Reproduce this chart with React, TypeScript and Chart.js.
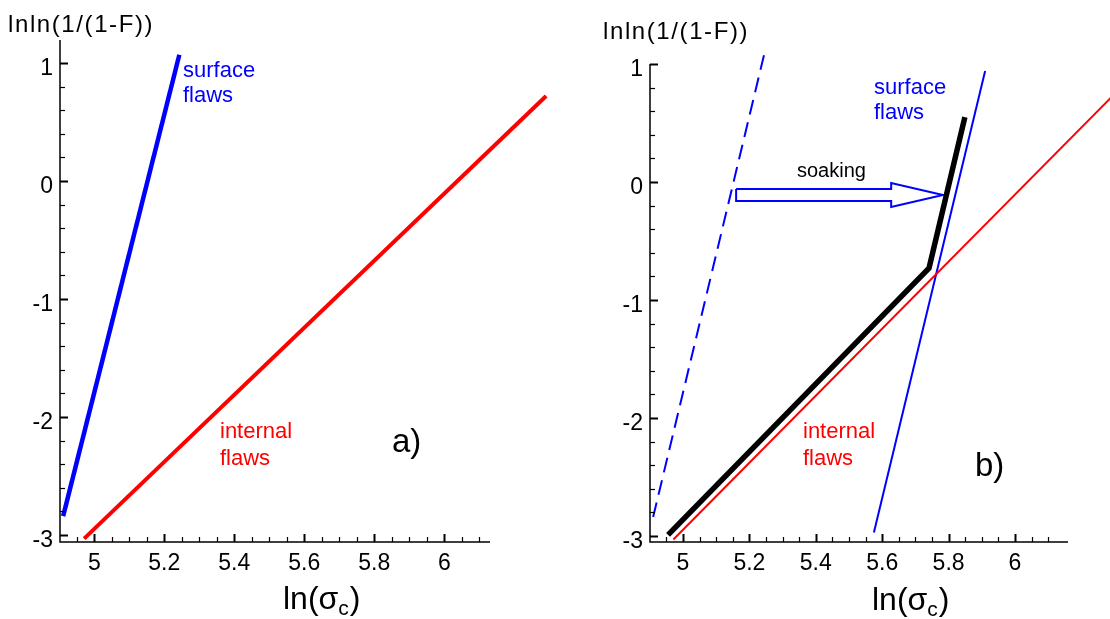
import React, { useEffect, useRef } from 'react';
import { Chart, registerables } from 'chart.js';

Chart.register(...registerables);

const FONT = "'Liberation Sans', Arial, Helvetica, sans-serif";

// ---- tick labels ----
const xTickValues = [5, 5.2, 5.4, 5.6, 5.8, 6];
const xTickLabels = ['5', '5.2', '5.4', '5.6', '5.8', '6'];
const yTickValues = [1, 0, -1, -2, -3];
const yTickLabels = ['1', '0', '-1', '-2', '-3'];

// ---- panel a) series ----
const surfaceA_x = [4.911, 5.243];
const surfaceA_y = [-2.84, 1.07];
const internalA_x = [4.971, 6.291];
const internalA_y = [-3.03, 0.72];

// ---- panel b) series ----
const surfaceBefore_x = [4.91, 5.244];
const surfaceBefore_y = [-2.84, 1.076];
const surfaceAfter_x = [5.575, 5.91];
const surfaceAfter_y = [-2.97, 0.94];
const internalB_x = [4.971, 6.291];
const internalB_y = [-3.03, 0.72];
const combined_x = [4.955, 5.741, 5.849];
const combined_y = [-2.99, -0.73, 0.55];
const arrow_x = [5.16, 5.627, 5.627, 5.783, 5.627, 5.627, 5.16, 5.16];
const arrow_y = [-0.059, -0.059, -0.008, -0.11, -0.212, -0.161, -0.161, -0.059];

const pts = (xs: number[], ys: number[]) => xs.map((x, i) => ({ x, y: ys[i] }));

const line = (xs: number[], ys: number[], color: string, width: number, dash: number[] = []) => ({
  data: pts(xs, ys),
  showLine: true,
  borderColor: color,
  backgroundColor: color,
  borderWidth: width,
  borderDash: dash,
  pointRadius: 0,
  pointHoverRadius: 0,
  fill: false,
  clip: false as any,
  borderJoinStyle: 'miter' as const,
  borderCapStyle: 'butt' as const,
});

type TextItem = { text: string; x: number; y: number; color: string; size: number; spacing?: number };

const decorPlugin = {
  id: 'panelDecor',
  afterDraw(chart: any, _args: any, opts: any) {
    const { ctx, chartArea } = chart;
    const xs = chart.scales.x;
    const ys = chart.scales.y;
    ctx.save();
    ctx.strokeStyle = '#000';
    ctx.lineWidth = 1.5;
    ctx.beginPath();
    ctx.moveTo(chartArea.left, chartArea.top);
    ctx.lineTo(chartArea.left, chartArea.bottom);
    ctx.lineTo(chartArea.right, chartArea.bottom);
    ctx.stroke();
    // x ticks (inward)
    const kx0 = Math.ceil(xs.min * 20 - 1e-6);
    const kx1 = Math.floor(opts.xTickMax * 20 + 1e-6);
    for (let k = kx0; k <= kx1; k++) {
      const major = k % 4 === 0;
      const px = Math.round(xs.getPixelForValue(k / 20)) + 0.5;
      ctx.lineWidth = major ? 2 : 1.2;
      ctx.beginPath();
      ctx.moveTo(px, chartArea.bottom);
      ctx.lineTo(px, chartArea.bottom - (major ? 8 : 5));
      ctx.stroke();
    }
    // y ticks (inward)
    for (let k = -15; k <= 5; k++) {
      const major = k % 5 === 0;
      const py = Math.round(ys.getPixelForValue(k / 5)) + 0.5;
      ctx.lineWidth = major ? 2 : 1.2;
      ctx.beginPath();
      ctx.moveTo(chartArea.left, py);
      ctx.lineTo(chartArea.left + (major ? 8 : 5), py);
      ctx.stroke();
    }
    // texts
    ctx.textBaseline = 'alphabetic';
    ctx.textAlign = 'left';
    (opts.texts as TextItem[]).forEach((t) => {
      ctx.font = `${t.size}px ${FONT}`;
      ctx.fillStyle = t.color;
      (ctx as any).letterSpacing = `${t.spacing || 0}px`;
      ctx.fillText(t.text, t.x, t.y);
    });
    (ctx as any).letterSpacing = '0px';
    // x axis title ln(σc)
    const xt = opts.xTitle;
    ctx.fillStyle = '#000';
    ctx.font = `32px ${FONT}`;
    ctx.fillText('ln(σ', xt.x, xt.y);
    const w1 = ctx.measureText('ln(σ').width;
    ctx.font = `21px ${FONT}`;
    ctx.fillText('c', xt.x + w1, xt.y + 6);
    const w2 = ctx.measureText('c').width;
    ctx.font = `32px ${FONT}`;
    ctx.fillText(')', xt.x + w1 + w2 + 1, xt.y);
    ctx.restore();
  },
};

type PanelCfg = {
  left: number;
  width: number;
  height: number;
  xMin: number;
  xMax: number;
  yMin: number;
  yMax: number;
  area: { left: number; right: number; top: number; bottom: number };
  xTickMax: number;
  datasets: any[];
  texts: TextItem[];
  xTitle: { x: number; y: number };
};

function Panel({ cfg }: { cfg: PanelCfg }) {
  const ref = useRef<HTMLCanvasElement>(null);
  useEffect(() => {
    const chart = new Chart(ref.current as HTMLCanvasElement, {
      type: 'scatter',
      data: { datasets: cfg.datasets },
      options: {
        animation: false,
        responsive: false,
        maintainAspectRatio: false,
        events: [],
        layout: {
          padding: { top: cfg.area.top, right: cfg.width - cfg.area.right, left: 0, bottom: 0 },
        },
        plugins: {
          legend: { display: false },
          tooltip: { enabled: false },
          panelDecor: { texts: cfg.texts, xTitle: cfg.xTitle, xTickMax: cfg.xTickMax },
        } as any,
        scales: {
          x: {
            type: 'linear',
            min: cfg.xMin,
            max: cfg.xMax,
            grid: { display: false, drawTicks: false },
            border: { display: false },
            afterBuildTicks: (s: any) => {
              s.ticks = xTickValues.map((v) => ({ value: v }));
            },
            afterFit: (s: any) => {
              s.height = cfg.height - cfg.area.bottom;
            },
            ticks: {
              color: '#000',
              font: { size: 23, family: FONT },
              padding: 8,
              maxRotation: 0,
              autoSkip: false,
              callback: (v: any) => {
                const i = xTickValues.findIndex((t) => Math.abs(t - v) < 1e-9);
                return i >= 0 ? xTickLabels[i] : '';
              },
            },
          },
          y: {
            type: 'linear',
            min: cfg.yMin,
            max: cfg.yMax,
            grid: { display: false, drawTicks: false },
            border: { display: false },
            afterBuildTicks: (s: any) => {
              s.ticks = yTickValues.map((v) => ({ value: v }));
            },
            afterFit: (s: any) => {
              s.width = cfg.area.left;
            },
            ticks: {
              color: '#000',
              font: { size: 23, family: FONT },
              padding: 7,
              labelOffset: 6,
              autoSkip: false,
              callback: (v: any) => {
                const i = yTickValues.findIndex((t) => Math.abs(t - v) < 1e-9);
                return i >= 0 ? yTickLabels[i] : '';
              },
            },
          },
        },
      },
      plugins: [decorPlugin],
    });
    return () => chart.destroy();
  }, [cfg]);
  return (
    <canvas
      ref={ref}
      width={cfg.width}
      height={cfg.height}
      style={{ position: 'absolute', left: cfg.left, top: 0, width: cfg.width, height: cfg.height }}
    />
  );
}

const RED = '#ff0000';
const BLUE = '#0000ff';

const panelA: PanelCfg = {
  left: 0,
  width: 560,
  height: 619,
  xMin: 4.902,
  xMax: 6.1306,
  yMin: -3.059,
  yMax: 1.195,
  area: { left: 60, right: 490, top: 40, bottom: 542 },
  xTickMax: 6.1,
  datasets: [
    line(internalA_x, internalA_y, RED, 4),
    line(surfaceA_x, surfaceA_y, BLUE, 4.5),
  ],
  texts: [
    { text: 'lnln(1/(1-F))', x: 8, y: 32, color: '#000', size: 24, spacing: 1.6 },
    { text: 'surface', x: 183, y: 77, color: BLUE, size: 22 },
    { text: 'flaws', x: 183, y: 102, color: BLUE, size: 22 },
    { text: 'internal', x: 220, y: 438, color: RED, size: 22 },
    { text: 'flaws', x: 220, y: 465, color: RED, size: 22 },
    { text: 'a)', x: 392, y: 452, color: '#000', size: 33 },
  ],
  xTitle: { x: 283, y: 609 },
};

const panelB: PanelCfg = {
  left: 560,
  width: 550,
  height: 619,
  xMin: 4.9006,
  xMax: 6.1596,
  yMin: -3.051,
  yMax: 1.0,
  area: { left: 90, right: 508, top: 64, bottom: 542 },
  xTickMax: 6.1,
  datasets: [
    line(internalB_x, internalB_y, RED, 2),
    line(surfaceBefore_x, surfaceBefore_y, BLUE, 2, [15, 8]),
    line(surfaceAfter_x, surfaceAfter_y, BLUE, 2),
    line(combined_x, combined_y, '#000', 5.5),
    line(arrow_x, arrow_y, BLUE, 2),
  ],
  texts: [
    { text: 'lnln(1/(1-F))', x: 43, y: 39, color: '#000', size: 24, spacing: 1.6 },
    { text: 'surface', x: 314, y: 94, color: BLUE, size: 22 },
    { text: 'flaws', x: 314, y: 119, color: BLUE, size: 22 },
    { text: 'soaking', x: 237, y: 177, color: '#000', size: 20 },
    { text: 'internal', x: 243, y: 438, color: RED, size: 22 },
    { text: 'flaws', x: 243, y: 465, color: RED, size: 22 },
    { text: 'b)', x: 415, y: 476, color: '#000', size: 33 },
  ],
  xTitle: { x: 312, y: 610 },
};

export default function App() {
  return (
    <div style={{ position: 'fixed', left: 0, top: 0, width: 1110, height: 619, background: '#fff', overflow: 'hidden' }}>
      <Panel cfg={panelA} />
      <Panel cfg={panelB} />
    </div>
  );
}
